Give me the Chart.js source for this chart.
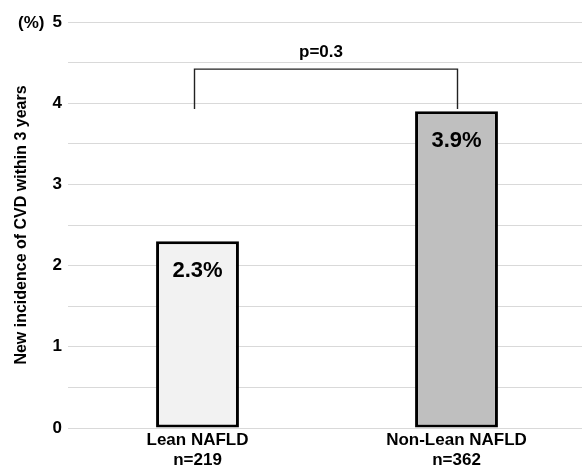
<!DOCTYPE html>
<html>
<head>
<meta charset="utf-8">
<script src="https://cdn.jsdelivr.net/npm/chart.js@4"></script>
<style>
  html, body { margin: 0; padding: 0; background: #fff; overflow: hidden; }
  #wrap { width: 586px; height: 467px; position: relative; }
</style>
</head>
<body>
<div id="wrap"><canvas id="cvdChart"></canvas></div>
<script>
// Data
const groups = ['Lean NAFLD', 'Non-Lean NAFLD'];
const groupN = ['n=219', 'n=362'];
const incidence = [2.3, 3.9];
const barColors = ['#f2f2f2', '#bfbfbf'];
const pValueText = 'p=0.3';
const yTicks = [0, 1, 2, 3, 4, 5];

const FONT = '"Liberation Sans", Arial, sans-serif';

// Bracket, p-value, value labels and the (%) unit
const annotations = {
    id: 'annotations',
    afterDatasetsDraw(chart) {
        const ctx = chart.ctx;
        const y = chart.scales.y;
        const meta = chart.getDatasetMeta(0);

        ctx.save();
        ctx.fillStyle = '#000';
        ctx.textAlign = 'center';
        ctx.textBaseline = 'middle';

        // value labels inside the bars
        ctx.font = 'bold 22px ' + FONT;
        meta.data.forEach((bar, i) => {
            ctx.fillText(incidence[i].toFixed(1) + '%', bar.x, bar.y + 30);
        });

        // bracket
        const x1 = meta.data[0].x - 3;
        const x2 = meta.data[1].x + 1;
        const yTop = y.getPixelForValue(4.42);
        const yLeg = y.getPixelForValue(3.93);
        ctx.strokeStyle = '#222';
        ctx.lineWidth = 1.4;
        ctx.beginPath();
        ctx.moveTo(x1, yLeg);
        ctx.lineTo(x1, yTop);
        ctx.lineTo(x2, yTop);
        ctx.lineTo(x2, yLeg);
        ctx.stroke();

        ctx.font = 'bold 17px ' + FONT;
        ctx.fillText(pValueText, (x1 + x2) / 2 - 5, yTop - 17);

        // unit
        ctx.font = 'bold 17px ' + FONT;
        ctx.textAlign = 'left';
        ctx.fillText('(%)', 18, y.getPixelForValue(5) + 1);
        ctx.restore();
    }
};

new Chart(document.getElementById('cvdChart').getContext('2d'), {
    type: 'bar',
    data: {
        labels: groups.map((g, i) => [g, groupN[i]]),
        datasets: [{
            data: incidence,
            backgroundColor: barColors,
            borderColor: '#000',
            borderWidth: 3,
            borderSkipped: false,
            barPercentage: 0.64,
            categoryPercentage: 0.5
        }]
    },
    options: {
        responsive: true,
        maintainAspectRatio: false,
        animation: false,
        layout: { padding: { top: 22, right: 0, left: 0, bottom: 0 } },
        plugins: {
            legend: { display: false },
            tooltip: { enabled: false }
        },
        scales: {
            x: {
                grid: { display: false, drawTicks: false },
                border: { display: false },
                ticks: {
                    color: '#000',
                    padding: 2,
                    font: { family: FONT, size: 17, weight: 'bold', lineHeight: 1.2 }
                },
                afterFit(scale) { scale.height = 39; }
            },
            y: {
                min: 0,
                max: 5,
                border: { display: false },
                grid: { color: '#d9d9d9', lineWidth: 1, drawTicks: false },
                ticks: {
                    stepSize: 0.5,
                    color: '#000',
                    padding: 6,
                    font: { family: FONT, size: 17, weight: 'bold' },
                    callback: v => (yTicks.includes(v) ? String(v) : '')
                },
                title: {
                    display: true,
                    text: 'New incidence of CVD within 3 years',
                    color: '#000',
                    padding: { top: 12, bottom: 4 },
                    font: { family: FONT, size: 16, weight: 'bold' }
                },
                afterFit(scale) { scale.width = 68; }
            }
        }
    },
    plugins: [annotations]
});
</script>
</body>
</html>
